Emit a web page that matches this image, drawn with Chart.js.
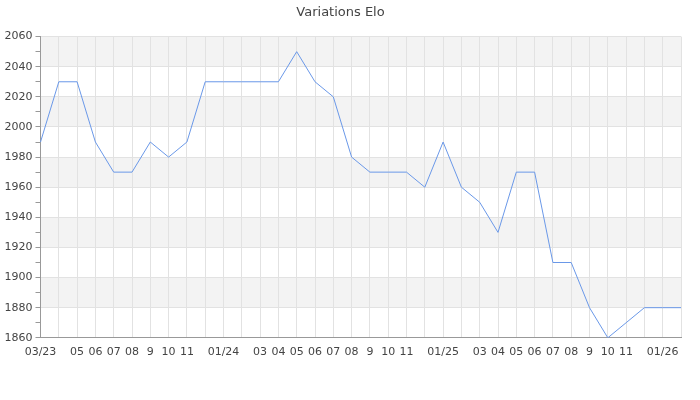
<!DOCTYPE html>
<html>
<head>
<meta charset="utf-8">
<script src="https://cdn.jsdelivr.net/npm/chart.js@4"></script>
<style>
  html, body { margin: 0; padding: 0; background: #fff; }
  #wrap { width: 700px; height: 400px; }
</style>
</head>
<body>
<div id="wrap"><canvas id="eloChart"></canvas></div>
<script>
// months of the series (one point per month)
var months = [
  '2023-03', '2023-04', '2023-05', '2023-06', '2023-07', '2023-08', '2023-09', '2023-10', '2023-11', '2023-12',
  '2024-01', '2024-02', '2024-03', '2024-04', '2024-05', '2024-06', '2024-07', '2024-08', '2024-09', '2024-10', '2024-11', '2024-12',
  '2025-01', '2025-02', '2025-03', '2025-04', '2025-05', '2025-06', '2025-07', '2025-08', '2025-09', '2025-10', '2025-11', '2025-12',
  '2026-01', '2026-02'
];

// labels shown under the axis ('' = skipped)
var tickLabels = [
  '03/23', '', '05', '06', '07', '08', '9', '10', '11', '',
  '01/24', '', '03', '04', '05', '06', '07', '08', '9', '10', '11', '',
  '01/25', '', '03', '04', '05', '06', '07', '08', '9', '10', '11', '',
  '01/26', ''
];

var elo = [
  1990, 2030, 2030, 1990, 1970, 1970, 1990, 1980, 1990, 2030,
  2030, 2030, 2030, 2030, 2050, 2030, 2020, 1980, 1970, 1970, 1970, 1960,
  1990, 1960, 1950, 1930, 1970, 1970, 1910, 1910, 1880, 1860, 1870, 1880,
  1880, 1880
];

var yMin = 1860, yMax = 2060;

// grey horizontal bands every other 20 points
var bandsPlugin = {
  id: 'bands',
  beforeDraw: function (chart) {
    var c = chart.ctx, area = chart.chartArea, y = chart.scales.y;
    c.save();
    c.fillStyle = '#f3f3f3';
    for (var v = yMax; v > yMin; v -= 40) {
      var top = y.getPixelForValue(v);
      var bottom = y.getPixelForValue(v - 20);
      c.fillRect(area.left, top, area.right - area.left, bottom - top);
    }
    c.restore();
  }
};

Chart.defaults.font.family = '"DejaVu Sans", sans-serif';
Chart.defaults.font.size = 11;
Chart.defaults.color = '#444';

var ctx = document.getElementById('eloChart').getContext('2d');
var chart = new Chart(ctx, {
  type: 'line',
  data: {
    labels: months,
    datasets: [
      {
        label: 'Elo',
        data: elo,
        borderColor: '#6a98e8',
        borderWidth: 1,
        pointRadius: 0,
        pointHoverRadius: 0,
        tension: 0,
        fill: false
      }
    ]
  },
  options: {
    responsive: true,
    maintainAspectRatio: false,
    animation: false,
    layout: {
      padding: { left: 0, right: 19, top: 0, bottom: 33 }
    },
    plugins: {
      legend: { display: false },
      tooltip: { enabled: false },
      title: {
        display: true,
        text: 'Variations Elo',
        color: '#444',
        font: { size: 13, weight: 'normal' },
        padding: { top: 5, bottom: 16 }
      }
    },
    scales: {
      x: {
        type: 'category',
        offset: false,
        grid: {
          color: '#e2e2e2',
          drawTicks: false
        },
        border: { color: '#999' },
        ticks: {
          autoSkip: false,
          maxRotation: 0,
          padding: 8,
          color: '#444',
          callback: function (val, i) { return tickLabels[i]; }
        }
      },
      y: {
        min: yMin,
        max: yMax,
        afterFit: function (scale) { scale.width = 40.5; },
        grid: {
          color: function (c) { return c.tick && c.tick.value % 20 === 0 ? '#e2e2e2' : 'rgba(0,0,0,0)'; },
          tickColor: '#999',
          tickLength: 5,
          drawTicks: true
        },
        border: { color: '#999' },
        ticks: {
          stepSize: 10,
          padding: 3,
          color: '#444',
          autoSkip: false,
          callback: function (v) { return v % 20 === 0 ? v : ''; }
        }
      }
    }
  },
  plugins: [bandsPlugin]
});
</script>
</body>
</html>
